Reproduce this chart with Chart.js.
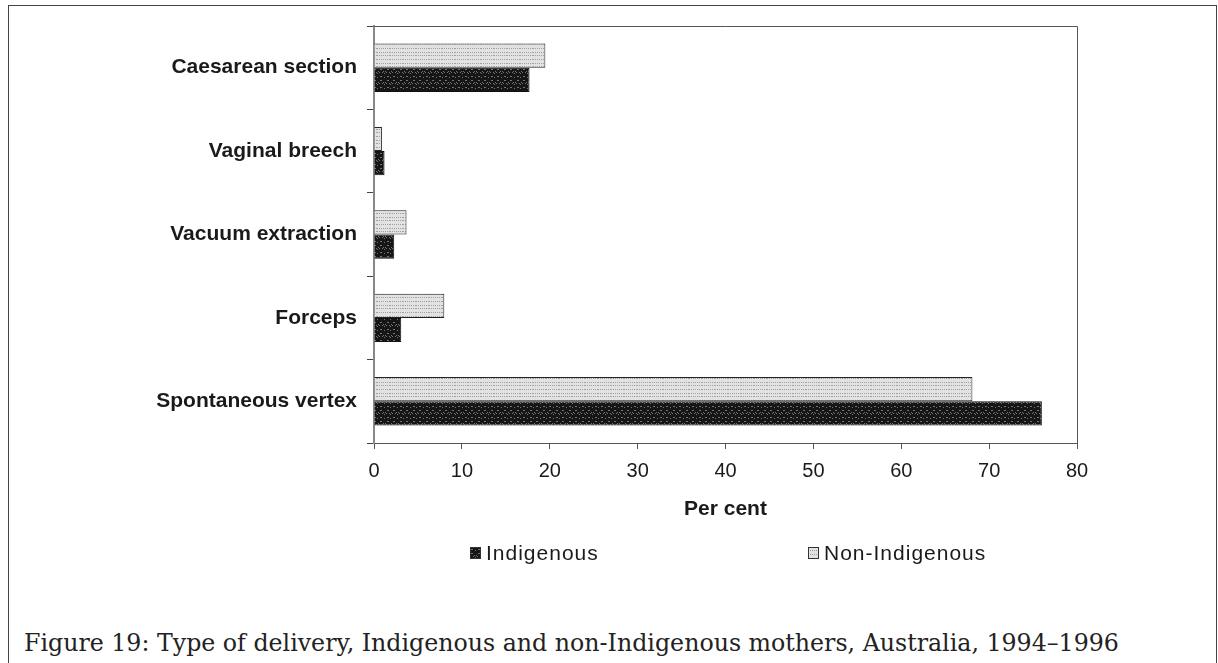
<!DOCTYPE html>
<html>
<head>
<meta charset="utf-8">
<script src="https://cdn.jsdelivr.net/npm/chart.js@4/dist/chart.umd.min.js"></script>
<style>
  html, body { margin: 0; padding: 0; background: #fff; }
  body { width: 1218px; height: 663px; position: relative; overflow: hidden; }
  #frame {
    position: absolute; left: 8px; top: 5px; width: 1209px; height: 700px;
    border: 1px solid #444; box-sizing: border-box;
  }
  #chartBox { position: absolute; left: 0; top: 0; width: 1218px; height: 580px; }
  #caption {
    position: absolute; left: 24px; top: 628px;
    font-family: "DejaVu Serif", serif; font-size: 23.7px; color: #222;
    white-space: nowrap; line-height: 30px;
  }
</style>
</head>
<body>
<div id="frame"></div>
<div id="chartBox"><canvas id="deliveryChart"></canvas></div>
<div id="caption">Figure 19: Type of delivery, Indigenous and non-Indigenous mothers, Australia, 1994–1996</div>

<script>
// categories, top to bottom
const categories = ['Caesarean section', 'Vaginal breech', 'Vacuum extraction', 'Forceps', 'Spontaneous vertex'];

// per cent of mothers
const nonIndigenous = [19.5, 0.9, 3.7, 8.0, 68.1];
const indigenous = [17.7, 1.2, 2.3, 3.1, 76.0];

const xTicks = [0, 10, 20, 30, 40, 50, 60, 70, 80];

// Function to make a stippled fill like the printed chart
function makePattern(base, dot, step) {
    const c = document.createElement('canvas');
    c.width = 13;
    c.height = 11;
    const g = c.getContext('2d');
    g.fillStyle = base;
    g.fillRect(0, 0, 13, 11);
    g.fillStyle = dot;
    for (let i = 0; i < 13; i++) {
        for (let j = 0; j < 11; j++) {
            if ((i * i * 3 + j * 5 + i * j * 7) % step === 0) g.fillRect(i, j, 1, 1);
        }
    }
    return g.createPattern(c, 'repeat');
}

const darkFill = makePattern('#161616', '#747474', 7);
const lightFill = makePattern('#e2e2e2', '#a0a0a0', 4);

// draws the frame round the plot area
const plotFrame = {
    id: 'plotFrame',
    afterDraw(chart) {
        const a = chart.chartArea;
        const ctx = chart.ctx;
        ctx.save();
        ctx.strokeStyle = '#555';
        ctx.lineWidth = 1;
        ctx.beginPath();
        ctx.moveTo(a.left, a.top + 0.5);
        ctx.lineTo(a.right + 0.5, a.top + 0.5);
        ctx.lineTo(a.right + 0.5, a.bottom);
        ctx.stroke();
        ctx.restore();
    }
};

// legend below the axis title, Indigenous first
const wideLegend = {
    id: 'wideLegend',
    afterDraw(chart) {
        const ctx = chart.ctx;
        const items = chart.data.datasets.slice().reverse();
        const xs = [470, 808];
        const y = 553;
        ctx.save();
        ctx.font = '21px "Liberation Sans", Arial, sans-serif';
        ctx.letterSpacing = '1px';
        ctx.textBaseline = 'middle';
        items.forEach((ds, i) => {
            ctx.fillStyle = ds.backgroundColor;
            ctx.fillRect(xs[i], y - 6, 11, 12);
            ctx.strokeStyle = '#333';
            ctx.lineWidth = 1;
            ctx.strokeRect(xs[i] + 0.5, y - 5.5, 10, 11);
            ctx.fillStyle = '#1a1a1a';
            ctx.fillText(ds.label, xs[i] + 16, y + 1);
        });
        ctx.restore();
    }
};

const ctx = document.getElementById('deliveryChart').getContext('2d');
new Chart(ctx, {
    type: 'bar',
    data: {
        labels: categories,
        datasets: [{
            label: 'Non-Indigenous',
            data: nonIndigenous,
            backgroundColor: lightFill,
            borderColor: '#222',
            borderWidth: 1,
            categoryPercentage: 0.58,
            barPercentage: 1.0
        }, {
            label: 'Indigenous',
            data: indigenous,
            backgroundColor: darkFill,
            borderColor: '#111',
            borderWidth: 1,
            categoryPercentage: 0.58,
            barPercentage: 1.0
        }]
    },
    options: {
        indexAxis: 'y',
        responsive: true,
        maintainAspectRatio: false,
        animation: false,
        layout: {
            padding: { left: 0, right: 141, top: 26, bottom: 54 }
        },
        plugins: {
            legend: { display: false },
            tooltip: { enabled: false }
        },
        scales: {
            x: {
                min: 0,
                max: 80,
                afterFit: scale => { scale.height = 83; },
                afterBuildTicks: scale => { scale.ticks = xTicks.map(v => ({ value: v })); },
                grid: {
                    drawOnChartArea: false,
                    tickLength: 6,
                    color: '#555'
                },
                border: { color: '#555', width: 1 },
                ticks: {
                    padding: 10,
                    color: '#1a1a1a',
                    font: { family: '"Liberation Sans", Arial, sans-serif', size: 20 }
                },
                title: {
                    display: true,
                    text: 'Per cent',
                    color: '#1a1a1a',
                    padding: { top: 12 },
                    font: { family: '"Liberation Sans", Arial, sans-serif', size: 21, weight: 'bold' }
                }
            },
            y: {
                afterFit: scale => { scale.width = 374; },
                grid: {
                    offset: true,
                    drawOnChartArea: false,
                    tickLength: 7,
                    color: '#444'
                },
                border: { color: '#888', width: 2 },
                ticks: {
                    padding: 10,
                    color: '#1a1a1a',
                    font: { family: '"Liberation Sans", Arial, sans-serif', size: 21, weight: 'bold' }
                }
            }
        }
    },
    plugins: [plotFrame, wideLegend]
});
</script>
</body>
</html>
